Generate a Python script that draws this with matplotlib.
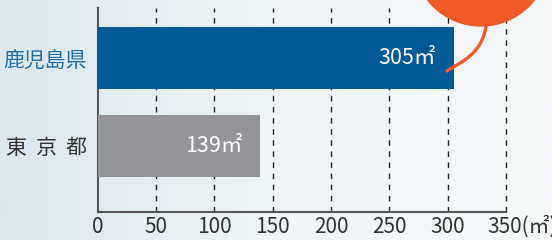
import numpy as np
import matplotlib.pyplot as plt
from matplotlib.patches import Circle, PathPatch
from matplotlib.path import Path
from matplotlib.colors import LinearSegmentedColormap

plt.rcParams['font.family'] = ['Noto Sans CJK JP', 'DejaVu Sans']

# データ
categories = ['東  京  都', '鹿児島県']
values = [139, 305]
value_labels = ['139㎡', '305㎡']
xticks = [0, 50, 100, 150, 200, 250, 300, 350]
xtick_labels = ['0', '50', '100', '150', '200', '250', '300', '']
last_label = '350(㎡)'

BAR_COLORS = ['#939598', '#035a96']
LABEL_COLORS = ['#333333', '#1f6ea6']
TICK_FS = 15

fig = plt.figure(figsize=(5.52, 2.4), dpi=100)

# 背景グラデーション
bg = fig.add_axes([0, 0, 1, 1], zorder=0)
cmap = LinearSegmentedColormap.from_list('bg', ['#dce8ee', '#eef4f7', '#f6f9fa'])
grad = np.linspace(0, 1, 256).reshape(1, -1)
bg.imshow(grad, aspect='auto', cmap=cmap, extent=[0, 1, 0, 1])
bg.axis('off')

ax = fig.add_axes([0.1772, 0.1167, 0.7395, 0.85], zorder=1)
ax.patch.set_alpha(0)

ypos = np.arange(len(categories))
ax.barh(ypos, values, height=0.705, color=BAR_COLORS, zorder=3)

for y, v, lab in zip(ypos, values, value_labels):
    ax.text(v - 15, y, lab, ha='right', va='center', color='white',
            fontsize=15.5, zorder=4)

ax.set_xlim(0, 350)
ax.set_ylim(-0.75, 1.568)
ax.set_xticks(xticks)
ax.set_xticklabels(xtick_labels, fontsize=TICK_FS, color='#333333')
ax.set_yticks(ypos)
ax.set_yticklabels(categories, fontsize=15)
for t, c in zip(ax.get_yticklabels(), LABEL_COLORS):
    t.set_color(c)
ax.tick_params(length=0)
ax.tick_params(axis='x', pad=3)
ax.tick_params(axis='y', pad=8)

for x in xticks[1:]:
    ax.axvline(x, color='#222222', lw=1.0, ls=(0, (4, 4)), zorder=1, clip_on=False)

for s in ['top', 'right']:
    ax.spines[s].set_visible(False)
for s in ['left', 'bottom']:
    ax.spines[s].set_color('#555555')
    ax.spines[s].set_linewidth(1.5)

# 最後の目盛ラベル（単位付き）
ax.annotate(last_label, xy=(xticks[-1], 0), xycoords=('data', 'axes fraction'),
            xytext=(-19, -3), textcoords='offset pixels', ha='left', va='top',
            fontsize=TICK_FS, color='#333333', annotation_clip=False)

# 吹き出し（装飾）
ov = fig.add_axes([0, 0, 1, 1], zorder=5)
ov.set_xlim(0, 552)
ov.set_ylim(240, 0)
ov.axis('off')
ov.add_patch(Circle((481, -42), 68, color='#f05a28', clip_on=False))
curve = Path([(487, 20), (484, 55), (460, 62), (447, 71)],
             [Path.MOVETO, Path.CURVE4, Path.CURVE4, Path.CURVE4])
ov.add_patch(PathPatch(curve, fill=False, edgecolor='#f05a28', lw=2.4,
                       capstyle='round'))

plt.savefig('out.png', dpi=100)
